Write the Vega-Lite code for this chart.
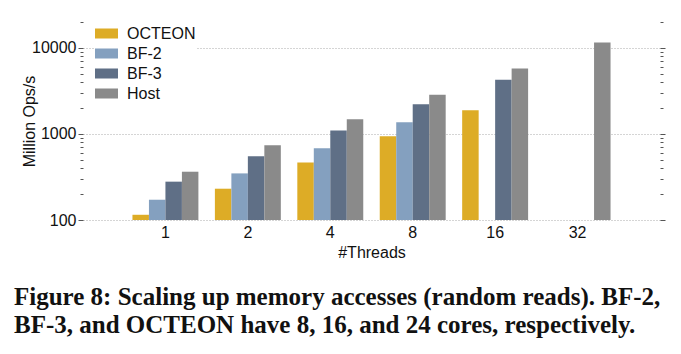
{
  "$schema": "https://vega.github.io/schema/vega-lite/v6.json",
  "width": 577,
  "height": 198,
  "autosize": "none",
  "padding": {"left": 83, "top": 22, "right": 21, "bottom": 134},
  "background": "white",
  "config": {
    "font": "Liberation Sans",
    "view": {"stroke": null},
    "axis": {"labelFontSize": 16, "titleFontSize": 16, "titleFontWeight": "normal", "labelColor": "#111", "titleColor": "#111"}
  },
  "title": {
    "text": ["Figure 8: Scaling up memory accesses (random reads). BF-2,", "BF-3, and OCTEON have 8, 16, and 24 cores, respectively."],
    "orient": "bottom",
    "anchor": "start",
    "frame": "group",
    "dx": -69,
    "offset": 25,
    "font": "Liberation Serif",
    "fontWeight": "bold",
    "fontSize": 25,
    "lineHeight": 28,
    "color": "#111",
    "baseline": "top"
  },
  "data": {
    "values": [
      {"threads": "1", "device": "OCTEON", "value": 115},
      {"threads": "1", "device": "BF-2", "value": 172},
      {"threads": "1", "device": "BF-3", "value": 279},
      {"threads": "1", "device": "Host", "value": 364},
      {"threads": "2", "device": "OCTEON", "value": 231},
      {"threads": "2", "device": "BF-2", "value": 348},
      {"threads": "2", "device": "BF-3", "value": 549},
      {"threads": "2", "device": "Host", "value": 737},
      {"threads": "4", "device": "OCTEON", "value": 467},
      {"threads": "4", "device": "BF-2", "value": 680},
      {"threads": "4", "device": "BF-3", "value": 1100},
      {"threads": "4", "device": "Host", "value": 1480},
      {"threads": "8", "device": "OCTEON", "value": 938},
      {"threads": "8", "device": "BF-2", "value": 1364},
      {"threads": "8", "device": "BF-3", "value": 2208},
      {"threads": "8", "device": "Host", "value": 2864},
      {"threads": "16", "device": "OCTEON", "value": 1881},
      {"threads": "16", "device": "BF-3", "value": 4278},
      {"threads": "16", "device": "Host", "value": 5745},
      {"threads": "32", "device": "Host", "value": 11530}
    ]
  },
  "encoding": {
    "x": {
      "field": "threads", "type": "nominal", "sort": ["1", "2", "4", "8", "16", "32"],
      "scale": {"paddingInner": 0.2, "paddingOuter": 0.6},
      "axis": {"title": "#Threads", "labelAngle": 0, "ticks": false, "domain": false, "labelPadding": 4, "titlePadding": 4}
    },
    "xOffset": {"field": "device", "type": "nominal", "sort": ["OCTEON", "BF-2", "BF-3", "Host"], "scale": {"paddingInner": 0, "paddingOuter": 0}},
    "color": {
      "field": "device", "type": "nominal",
      "scale": {"domain": ["OCTEON", "BF-2", "BF-3", "Host"], "range": ["#DDAC26", "#84A0BF", "#5F6F86", "#8a8a8a"]},
      "legend": {
        "title": null, "orient": "none", "legendX": 12, "legendY": 0,
        "symbolType": "M-1,-0.435H1V0.435H-1Z", "symbolSize": 529, "symbolStrokeWidth": 0, "symbolOpacity": 1,
        "labelFontSize": 16, "labelOffset": 9, "rowPadding": -3, "fillColor": "white", "padding": 0, "labelColor": "#111"
      }
    }
  },
  "layer": [
    {
      "mark": {"type": "bar"},
      "encoding": {
        "y": {
          "field": "value", "type": "quantitative", "stack": null,
          "scale": {"type": "log", "domain": [100, 20000], "nice": false},
          "axis": {
            "title": "Million Ops/s", "titlePadding": -6,
            "values": [100, 200, 300, 400, 500, 600, 700, 800, 900, 1000, 2000, 3000, 4000, 5000, 6000, 7000, 8000, 9000, 10000, 20000],
            "format": "d",
            "labelExpr": "(datum.value == 100 || datum.value == 1000 || datum.value == 10000) ? datum.label : ''",
            "domain": false,
            "tickColor": "#555",
            "tickSize": {"condition": {"test": "datum.value == 100 || datum.value == 1000 || datum.value == 10000", "value": 5}, "value": 3},
            "labelPadding": 2,
            "grid": true,
            "gridDash": [1, 2],
            "gridColor": "#aaaaaa",
            "gridOpacity": {"condition": {"test": "datum.value == 100 || datum.value == 1000 || datum.value == 10000", "value": 1}, "value": 0}
          }
        }
      }
    },
    {
      "mark": {"type": "bar", "opacity": 0},
      "encoding": {
        "y": {
          "field": "value", "type": "quantitative", "stack": null,
          "axis": {
            "orient": "right", "title": null, "labels": false, "domain": false, "grid": false,
            "values": [100, 200, 300, 400, 500, 600, 700, 800, 900, 1000, 2000, 3000, 4000, 5000, 6000, 7000, 8000, 9000, 10000, 20000],
            "tickColor": "#555",
            "tickSize": {"condition": {"test": "datum.value == 100 || datum.value == 1000 || datum.value == 10000", "value": 5}, "value": 3}
          }
        }
      }
    }
  ],
  "resolve": {"axis": {"y": "independent"}}
}
